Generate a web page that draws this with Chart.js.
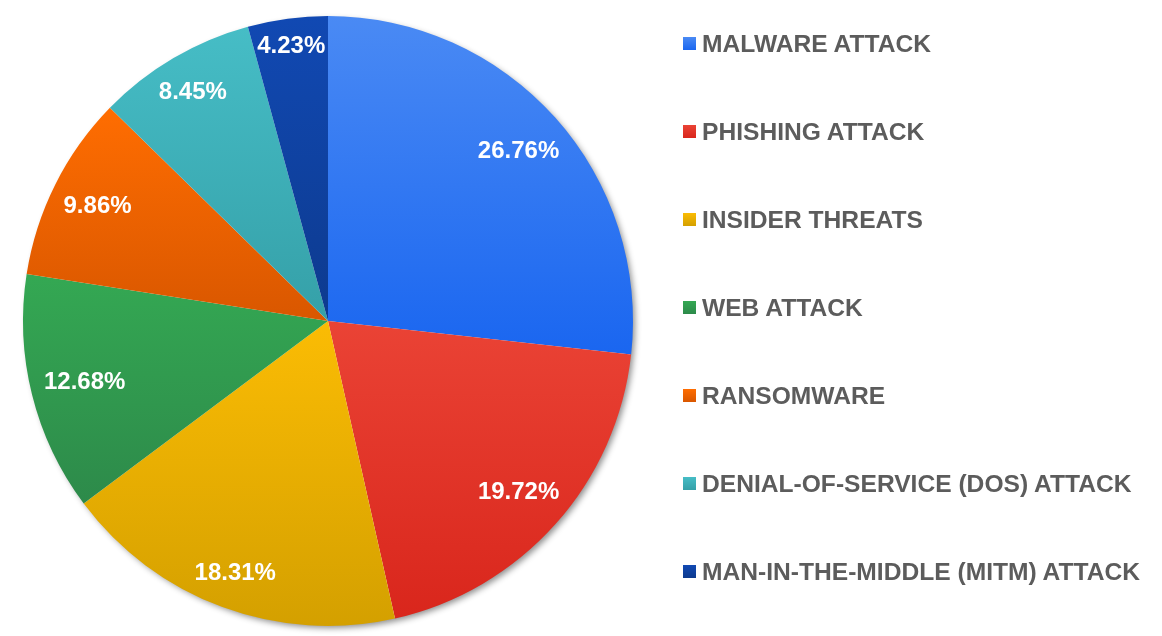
<!DOCTYPE html>
<html>
<head>
<meta charset="utf-8">
<script src="https://cdn.jsdelivr.net/npm/chart.js@4.4.0/dist/chart.umd.min.js"></script>
<style>
  html, body { margin: 0; padding: 0; background: #fff; }
  #wrap { position: relative; width: 1162px; height: 636px; }
  #legend { position: absolute; left: 683px; top: 0; font: bold 24.6px "Liberation Sans", Arial, sans-serif; color: #5c5c5c; }
  .item { position: absolute; left: 0; height: 28px; line-height: 28px; white-space: nowrap; }
  .sw { position: absolute; left: 0; top: 7px; width: 13px; height: 13px; }
  .t { position: absolute; left: 19px; top: 0; }
</style>
</head>
<body>
<div id="wrap">
  <canvas id="pie"></canvas>
  <div id="legend"></div>
</div>
<script>
// data
const labels = ['MALWARE ATTACK', 'PHISHING ATTACK', 'INSIDER THREATS', 'WEB ATTACK', 'RANSOMWARE',
  'DENIAL-OF-SERVICE (DOS) ATTACK', 'MAN-IN-THE-MIDDLE (MITM) ATTACK'];
const values = [26.76, 19.72, 18.31, 12.68, 9.86, 8.45, 4.23];

// slice colours, light at the top of each slice, darker at the bottom
const topColors = ['#4a8af4', '#ea4335', '#fbbc04', '#34a853', '#ff6d01', '#46bdc6', '#1149b3'];
const bottomColors = ['#1a66f0', '#d9261c', '#d4a000', '#2d8a4a', '#d95700', '#35a0a8', '#0d3a8e'];

// gradient over the vertical extent of one slice
function sliceGradient(ctx) {
  const chart = ctx.chart;
  const area = chart.chartArea;
  const i = ctx.dataIndex;
  if (!area || i === undefined) return topColors[i] || '#ccc';
  const cx = (area.left + area.right) / 2, cy = (area.top + area.bottom) / 2;
  const r = Math.min(area.width, area.height) / 2;
  const total = values.reduce((a, b) => a + b, 0);
  let before = 0;
  for (let k = 0; k < i; k++) before += values[k];
  const a0 = -Math.PI / 2 + before / total * 2 * Math.PI;
  const a1 = a0 + values[i] / total * 2 * Math.PI;
  const ys = [cy, cy + r * Math.sin(a0), cy + r * Math.sin(a1)];
  [-Math.PI / 2, Math.PI / 2, 3 * Math.PI / 2].forEach(a => {
    if (a >= a0 && a <= a1) ys.push(cy + r * Math.sin(a));
  });
  const g = chart.ctx.createLinearGradient(0, Math.min(...ys), 0, Math.max(...ys));
  g.addColorStop(0, topColors[i]);
  g.addColorStop(1, bottomColors[i]);
  return g;
}

// soft drop shadow under the whole pie
const pieShadow = {
  id: 'pieShadow',
  beforeDatasetsDraw(chart) {
    const arc = chart.getDatasetMeta(0).data[0];
    if (!arc) return;
    const { x, y, outerRadius } = arc.getProps(['x', 'y', 'outerRadius'], true);
    const c = chart.ctx;
    c.save();
    c.shadowColor = 'rgba(0,0,0,0.45)';
    c.shadowBlur = 6;
    c.shadowOffsetX = 3;
    c.shadowOffsetY = 3;
    c.beginPath();
    c.arc(x, y, outerRadius - 1, 0, Math.PI * 2);
    c.fillStyle = '#fff';
    c.fill();
    c.restore();
  }
};

// percentage labels, pushed out as far as the text box fits in the circle
const sliceLabels = {
  id: 'sliceLabels',
  afterDatasetsDraw(chart) {
    const c = chart.ctx;
    c.save();
    c.font = 'bold 24px "Liberation Sans", Arial, sans-serif';
    c.fillStyle = '#ffffff';
    c.textAlign = 'center';
    c.textBaseline = 'middle';
    chart.getDatasetMeta(0).data.forEach((arc, i) => {
      const p = arc.getProps(['x', 'y', 'startAngle', 'endAngle', 'outerRadius'], true);
      const mid = (p.startAngle + p.endAngle) / 2;
      const txt = values[i].toFixed(2) + '%';
      const hw = c.measureText(txt).width / 2, hh = 9;
      const lim = p.outerRadius - 12;
      const dx = Math.cos(mid), dy = Math.sin(mid);
      let d = p.outerRadius * 0.95;
      while (d > 0) {
        const fx = Math.abs(dx * d) + hw, fy = Math.abs(dy * d) + hh;
        if (Math.hypot(fx, fy) <= lim) break;
        d -= 1;
      }
      c.fillText(txt, p.x + dx * d, p.y + dy * d + 1);
    });
    c.restore();
  }
};

new Chart(document.getElementById('pie'), {
  type: 'pie',
  data: {
    labels,
    datasets: [{ data: values, backgroundColor: sliceGradient, borderWidth: 0 }]
  },
  options: {
    responsive: true,
    maintainAspectRatio: false,
    animation: false,
    events: [],
    layout: { padding: { left: 22, right: 528, top: 16, bottom: 10 } },
    plugins: { legend: { display: false }, tooltip: { enabled: false } }
  },
  plugins: [pieShadow, sliceLabels]
});

// legend on the right
const legend = document.getElementById('legend');
labels.forEach((name, i) => {
  const item = document.createElement('div');
  item.className = 'item';
  item.style.top = (30 + 88 * i) + 'px';
  const sw = document.createElement('div');
  sw.className = 'sw';
  sw.style.background = `linear-gradient(${topColors[i]}, ${bottomColors[i]})`;
  const t = document.createElement('span');
  t.className = 't';
  t.textContent = name;
  item.appendChild(sw);
  item.appendChild(t);
  legend.appendChild(item);
});
</script>
</body>
</html>
